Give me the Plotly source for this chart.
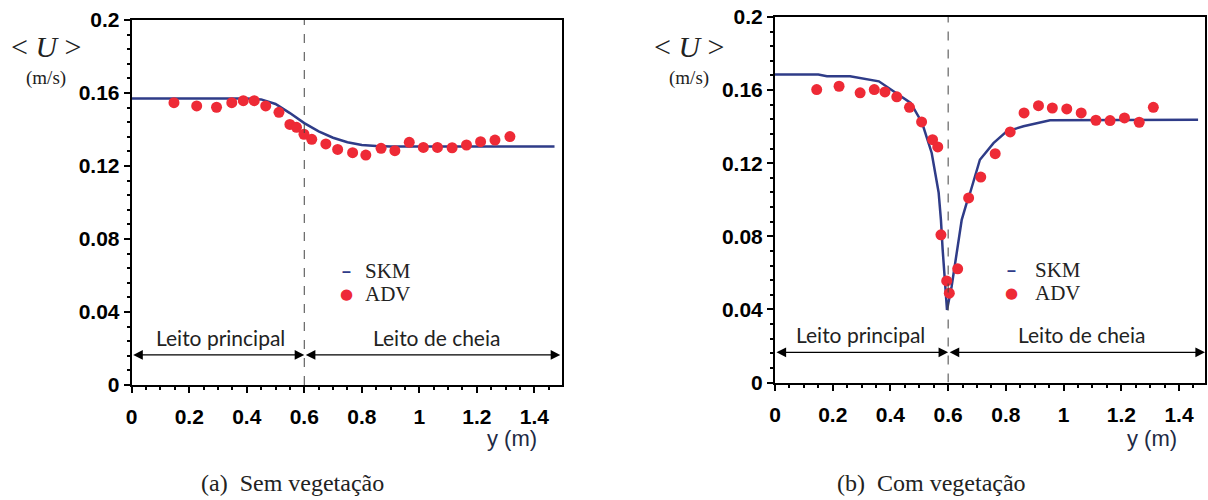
import plotly.graph_objects as go

# ---------------- data ----------------
# (a) Sem vegetação
skm_a_x = [0, 0.1, 0.2, 0.3, 0.4, 0.45, 0.5, 0.55, 0.6, 0.65, 0.7, 0.75, 0.8, 0.85, 0.9, 1.0, 1.2, 1.47]
skm_a_y = [0.157, 0.157, 0.157, 0.157, 0.157, 0.1565, 0.154, 0.149, 0.1435, 0.139, 0.1355, 0.133,
           0.1315, 0.131, 0.1307, 0.1307, 0.1307, 0.1307]
adv_a_x = [0.147, 0.226, 0.295, 0.348, 0.388, 0.426, 0.466, 0.512, 0.550, 0.573, 0.599, 0.626,
           0.675, 0.716, 0.768, 0.814, 0.867, 0.915, 0.965, 1.014, 1.063, 1.114, 1.164, 1.213,
           1.263, 1.315]
adv_a_y = [0.1547, 0.1529, 0.1522, 0.1547, 0.1558, 0.1558, 0.1529, 0.1494, 0.1428, 0.1412, 0.1374,
           0.1346, 0.1321, 0.1291, 0.1273, 0.126, 0.1297, 0.1284, 0.133, 0.1302, 0.1302, 0.130,
           0.1315, 0.1333, 0.1342, 0.1361]

# (b) Com vegetação
skm_b_x = [0, 0.15, 0.18, 0.26, 0.36, 0.42, 0.47, 0.51, 0.543, 0.567, 0.575, 0.581, 0.589, 0.596,
           0.612, 0.63, 0.647, 0.664, 0.676, 0.71, 0.757, 0.803, 0.861, 0.953, 1.2, 1.466]
skm_b_y = [0.1685, 0.1685, 0.1676, 0.1676, 0.1648, 0.1585, 0.153, 0.142, 0.1256, 0.104, 0.089,
           0.0726, 0.0544, 0.0397, 0.0525, 0.0726, 0.089, 0.0982, 0.1037, 0.1219, 0.131, 0.1374,
           0.1402, 0.1435, 0.1438, 0.1438]
adv_b_x = [0.1445, 0.222, 0.295, 0.344, 0.381, 0.422, 0.466, 0.508, 0.546, 0.564, 0.575, 0.595,
           0.604, 0.633, 0.671, 0.713, 0.763, 0.815, 0.863, 0.913, 0.961, 1.011, 1.061, 1.112,
           1.161, 1.211, 1.262, 1.311]
adv_b_y = [0.1603, 0.1621, 0.1585, 0.1603, 0.159, 0.1563, 0.1506, 0.1426, 0.1329, 0.1289, 0.0808,
           0.0556, 0.0489, 0.0622, 0.101, 0.1124, 0.1252, 0.1371, 0.1475, 0.1515, 0.1502, 0.1497,
           0.1475, 0.1435, 0.1433, 0.1448, 0.1424, 0.1506]

y_ticks = [0, 0.04, 0.08, 0.12, 0.16, 0.2]
y_tick_text = ["0", "0.04", "0.08", "0.12", "0.16", "0.2"]
x_ticks = [0, 0.2, 0.4, 0.6, 0.8, 1.0, 1.2, 1.4]
x_tick_text = ["0", "0.2", "0.4", "0.6", "0.8", "1", "1.2", "1.4"]
boundary = 0.6
captions = ["(a)&nbsp; Sem vegetação", "(b)&nbsp; Com vegetação"]

NAVY = "#2f3c88"
RED = "#ee2a36"

fig = go.Figure()
for xa, ya, lx, ly, px, py in [("x", "y", skm_a_x, skm_a_y, adv_a_x, adv_a_y),
                               ("x2", "y2", skm_b_x, skm_b_y, adv_b_x, adv_b_y)]:
    fig.add_trace(go.Scatter(x=lx, y=ly, mode="lines", line=dict(color=NAVY, width=2.5),
                             xaxis=xa, yaxis=ya, showlegend=False, name="SKM"))
    fig.add_trace(go.Scatter(x=px, y=py, mode="markers", marker=dict(color=RED, size=11),
                             xaxis=xa, yaxis=ya, showlegend=False, name="ADV"))

tickfont = dict(family="Liberation Sans", size=21, color="black", weight="bold")
def xax(domain, rng, anchor):
    return dict(domain=domain, range=rng, anchor=anchor, showgrid=False, zeroline=False,
                automargin=False,
                showline=True, linecolor="black", linewidth=2, mirror=True,
                ticks="outside", ticklen=6, tickwidth=1.5, tickcolor="black",
                ticklabelstandoff=6,
                tickvals=x_ticks, ticktext=x_tick_text, tickfont=tickfont,
                minor=dict(ticks="outside", ticklen=3, tickcolor="black", tickmode="linear",
                           tick0=0, dtick=0.05))
def yax(domain, anchor):
    return dict(domain=domain, range=[0, 0.2], anchor=anchor, showgrid=False, zeroline=False,
                automargin=False,
                showline=True, linecolor="black", linewidth=2, mirror=True,
                ticks="outside", ticklen=6, tickwidth=1.5, tickcolor="black",
                tickvals=y_ticks, ticktext=y_tick_text, tickfont=tickfont,
                minor=dict(ticks="outside", ticklen=3, tickcolor="black", tickmode="linear",
                           tick0=0, dtick=0.008))

W, H = 1208, 500
fig.update_layout(
    width=W, height=H, margin=dict(l=0, r=0, t=0, b=0, autoexpand=False),
    paper_bgcolor="white", plot_bgcolor="white",
    xaxis=xax([131.7 / W, 561.7 / W], [0, 1.495], "y"),
    yaxis=yax([(H - 385) / H, (H - 20) / H], "x"),
    xaxis2=xax([775 / W, 1205 / W], [0, 1.49], "y2"),
    yaxis2=yax([(H - 382.5) / H, (H - 17) / H], "x2"),
)

shapes = []
annotations = []
serif = "Liberation Serif"
sans_txt = "Lato"
for k, (xr, yr) in enumerate([("x", "y"), ("x2", "y2")]):
    shapes.append(dict(type="line", xref=xr, yref=yr, x0=boundary, x1=boundary, y0=0, y1=0.2,
                       line=dict(color="#444", width=1, dash="dash")))
    # double arrows
    for a, b in [(0, boundary), (boundary, 1.49)]:
        annotations.append(dict(xref=xr, yref=yr, axref=xr, ayref=yr, x=b, y=0.0165, ax=a, ay=0.0165,
                                text="", showarrow=True, arrowhead=2, arrowside="end+start",
                                arrowsize=1.6, arrowwidth=1.2, arrowcolor="black",
                                standoff=0, startstandoff=0))
txt_font = dict(family=sans_txt, size=21, color="#222")
annotations += [
    dict(xref="x", yref="y", x=0.307, y=0.0263, text="Leito principal", showarrow=False, font=txt_font),
    dict(xref="x", yref="y", x=1.058, y=0.0263, text="Leito de cheia", showarrow=False, font=txt_font),
    dict(xref="x2", yref="y2", x=0.295, y=0.0263, text="Leito principal", showarrow=False, font=txt_font),
    dict(xref="x2", yref="y2", x=1.062, y=0.0263, text="Leito de cheia", showarrow=False, font=txt_font),
]
# legends (text glyphs)
for xr, yr, gx, tx, y1, y2 in [("x", "y", 0.748, 0.804, 0.0625, 0.0498),
                               ("x2", "y2", 0.821, 0.894, 0.0617, 0.049)]:
    annotations += [
        dict(xref=xr, yref=yr, x=gx, y=y1, text="<b>–</b>", showarrow=False, height=18,
             font=dict(family="Liberation Sans", size=16, color=NAVY)),
        dict(xref=xr, yref=yr, x=gx, y=y2, text="●", showarrow=False, height=18,
             font=dict(family="DejaVu Sans", size=15, color=RED)),
        dict(xref=xr, yref=yr, x=tx, y=y1, text="SKM", showarrow=False, xanchor="left", height=20,
             font=dict(family=serif, size=21, color="#222")),
        dict(xref=xr, yref=yr, x=tx, y=y2, text="ADV", showarrow=False, xanchor="left", height=20,
             font=dict(family=serif, size=21, color="#222")),
    ]
# y labels, x labels, captions (paper pixel positions)
def P(px, py):
    return px / W, 1 - py / H
for cx, ylx, cap_x, cap in [(46, 512, 292, captions[0]), (689, 1152, 931, captions[1])]:
    for (py, text, font) in [(47, "&lt; <i>U</i> &gt;", dict(family=serif, size=30, color="#222")),
                             (78, "(m/s)", dict(family=serif, size=19, color="#222"))]:
        x0, y0 = P(cx, py)
        annotations.append(dict(xref="paper", yref="paper", x=x0, y=y0, text=text,
                                xanchor="center", yanchor="middle", showarrow=False, font=font))
    x0, y0 = P(ylx, 438)
    annotations.append(dict(xref="paper", yref="paper", x=x0, y=y0, text="y (m)",
                            xanchor="center", yanchor="middle", showarrow=False,
                            font=dict(family="Liberation Sans", size=22, color="#1e2a44")))
    x0, y0 = P(cap_x, 483)
    annotations.append(dict(xref="paper", yref="paper", x=x0, y=y0, text=cap,
                            xanchor="center", yanchor="middle", showarrow=False,
                            font=dict(family=serif, size=24, color="#222")))

fig.update_layout(shapes=shapes, annotations=annotations)
fig.write_html("out.html", config={"displayModeBar": False},
               post_script="document.body.style.margin='0';")
